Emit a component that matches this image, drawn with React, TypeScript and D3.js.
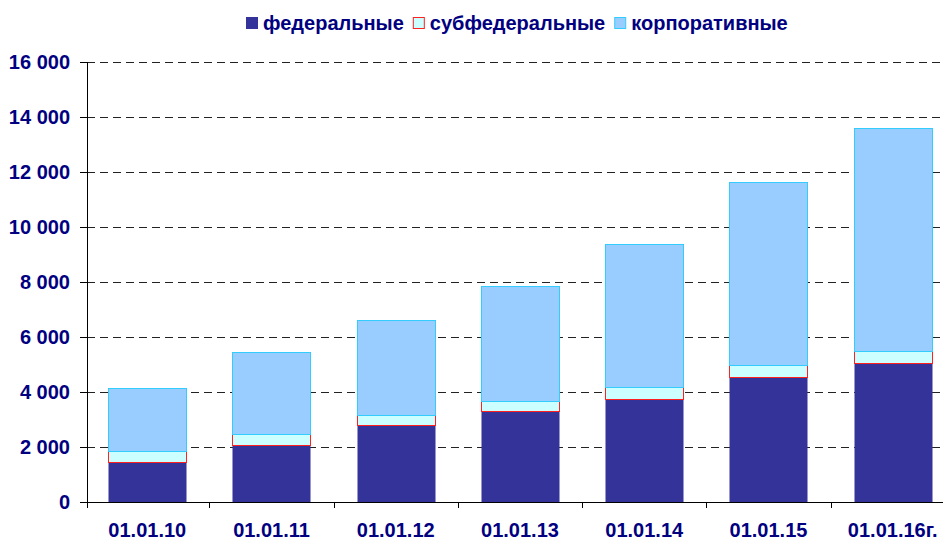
import React, { useEffect, useRef } from 'react';
import * as d3 from 'd3';

const categories = ['01.01.10', '01.01.11', '01.01.12', '01.01.13', '01.01.14', '01.01.15', '01.01.16г.'];
const federal = [1450, 2060, 2810, 3310, 3730, 4530, 5050];
const subfederal = [390, 400, 350, 350, 450, 450, 440];
const corporate = [2310, 2990, 3460, 4190, 5200, 6640, 8100];
const seriesNames = ['федеральные', 'субфедеральные', 'корпоративные'];
const yTicks = [0, 2000, 4000, 6000, 8000, 10000, 12000, 14000, 16000];

const fills = ['#333399', '#CCFFFF', '#99CCFF'];
const strokes = ['none', '#FF2020', '#33CCFF'];
const textColor = '#000080';
const font = '"Liberation Sans", Arial, sans-serif';
const fontSize = 20;

const App: React.FC = () => {
  const svgRef = useRef<SVGSVGElement>(null);

  useEffect(() => {
    if (!svgRef.current) return;
    const svg = d3.select(svgRef.current);
    svg.selectAll('*').remove();

    const height = 541;
    const margin = { top: 62, left: 87, bottom: 39 };
    const plotRight = 953;

    const x = d3.scaleBand<string>()
      .domain(categories)
      .range([margin.left, plotRight])
      .paddingInner(0.37)
      .paddingOuter(0.17);
    const y = d3.scaleLinear().domain([0, 16000]).range([height - margin.bottom, margin.top]);

    const locale = d3.formatLocale({ thousands: ' ', grouping: [3], decimal: ',', currency: ['', ''] });
    const fmt = locale.format(',d');

    // grid
    svg.append('g')
      .selectAll('line')
      .data(yTicks.filter(t => t > 0))
      .join('line')
      .attr('x1', margin.left)
      .attr('x2', plotRight)
      .attr('y1', d => Math.round(y(d)) + 0.5)
      .attr('y2', d => Math.round(y(d)) + 0.5)
      .attr('stroke', '#222')
      .attr('stroke-width', 1)
      .attr('stroke-dasharray', '8,5');

    // stacked bars
    const rows = categories.map((c, i) => ({ cat: c, f: federal[i], s: subfederal[i], k: corporate[i] }));
    const stack = d3.stack<any>().keys(['f', 's', 'k'])(rows);

    stack.forEach((layer, li) => {
      svg.append('g')
        .selectAll('rect')
        .data(layer)
        .join('rect')
        .attr('x', d => Math.round(x(d.data.cat)!) + 0.5)
        .attr('width', Math.round(x.bandwidth()))
        .attr('y', d => Math.round(y(d[1])) + 0.5)
        .attr('height', d => Math.round(y(d[0])) - Math.round(y(d[1])))
        .attr('fill', fills[li])
        .attr('stroke', strokes[li])
        .attr('stroke-width', 1);
    });

    // y axis
    const yAxis = svg.append('g');
    yAxis.append('line')
      .attr('x1', margin.left + 0.5).attr('x2', margin.left + 0.5)
      .attr('y1', margin.top).attr('y2', y(0) + 6)
      .attr('stroke', '#000');
    yAxis.selectAll('line.tick')
      .data(yTicks)
      .join('line')
      .attr('class', 'tick')
      .attr('x1', margin.left - 7).attr('x2', margin.left)
      .attr('y1', d => Math.round(y(d)) + 0.5)
      .attr('y2', d => Math.round(y(d)) + 0.5)
      .attr('stroke', '#000');
    yAxis.selectAll('text')
      .data(yTicks)
      .join('text')
      .attr('x', 70)
      .attr('y', d => y(d) + 7)
      .attr('text-anchor', 'end')
      .attr('fill', textColor)
      .attr('font-family', font)
      .attr('font-weight', 'bold')
      .attr('font-size', fontSize)
      .text(d => fmt(d));

    // x axis
    const xAxis = svg.append('g');
    xAxis.append('line')
      .attr('x1', margin.left).attr('x2', plotRight)
      .attr('y1', Math.round(y(0)) + 0.5).attr('y2', Math.round(y(0)) + 0.5)
      .attr('stroke', '#000');
    const step = x.step();
    xAxis.selectAll('line.tick')
      .data(categories.slice(1))
      .join('line')
      .attr('class', 'tick')
      .attr('x1', d => Math.round(x(d)! - x.paddingInner() * step / 2) + 0.5)
      .attr('x2', d => Math.round(x(d)! - x.paddingInner() * step / 2) + 0.5)
      .attr('y1', y(0))
      .attr('y2', y(0) + 6)
      .attr('stroke', '#000');
    xAxis.selectAll('text')
      .data(categories)
      .join('text')
      .attr('x', d => x(d)! + x.bandwidth() / 2)
      .attr('y', 537)
      .attr('text-anchor', 'middle')
      .attr('fill', textColor)
      .attr('font-family', font)
      .attr('font-weight', 'bold')
      .attr('font-size', fontSize)
      .text(d => d);

    // legend
    const legend = svg.append('g');
    let cx = 0;
    seriesNames.forEach((name, i) => {
      const item = legend.append('g').attr('transform', `translate(${cx},0)`);
      item.append('rect')
        .attr('x', 0.5).attr('y', 17.5)
        .attr('width', 11).attr('height', 11)
        .attr('fill', fills[i])
        .attr('stroke', strokes[i] === 'none' ? fills[i] : strokes[i]);
      const t = item.append('text')
        .attr('x', 17)
        .attr('y', 30)
        .attr('fill', textColor)
        .attr('font-family', font)
        .attr('font-weight', 'bold')
        .attr('font-size', fontSize)
        .text(name);
      const w = (t.node() as SVGTextElement).getComputedTextLength();
      cx += 17 + w + 9;
    });
    const total = cx - 9;
    legend.attr('transform', `translate(${Math.round(517 - total / 2)},0)`);
  }, []);

  return (
    <>
      <style>{'html,body{margin:0;padding:0;overflow:hidden;background:#fff}'}</style>
      <svg ref={svgRef} width={943} height={541} style={{ display: 'block' }} />
    </>
  );
};

export default App;
